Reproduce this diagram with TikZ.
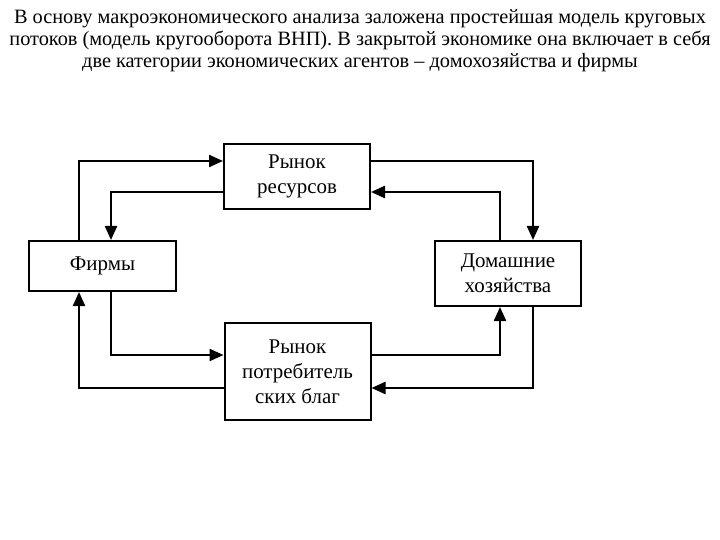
\documentclass[tikz,border=0pt]{standalone}
\usepackage{fontspec}
\setmainfont{Liberation Serif}
\usetikzlibrary{arrows.meta}
\tikzset{
  box/.style={draw, line width=2bp, align=center, inner sep=0pt, font=\fontsize{21}{25}\selectfont},
  arr/.style={line width=2.3bp, -{Triangle[length=14bp,width=12bp]}},
}
\begin{document}
\begin{tikzpicture}[x=1bp,y=-1bp]
\useasboundingbox (0,0) rectangle (720,540);
\node[align=center, inner sep=0pt, font=\fontsize{20.4}{22}\selectfont] (title) at (360,41) {В основу макроэкономического анализа заложена простейшая модель круговых\\потоков (модель кругооборота ВНП). В закрытой экономике она включает в себя\\две категории экономических агентов – домохозяйства и фирмы};
\node[box, minimum width=146bp, minimum height=65bp] (res) at (297,176.5) {Рынок\\ресурсов};
\node[box, minimum width=147bp, minimum height=50bp] (firms) at (102.5,266) {Фирмы};
\node[box, minimum width=146bp, minimum height=65bp] (hh) at (508,273.5) {Домашние\\хозяйства};
\node[box, minimum width=146bp, minimum height=97bp] (cons) at (297.5,371.5) {Рынок\\потребитель\\ских благ};
\coordinate (xL1) at (79,0);
\coordinate (xL2) at (111,0);
\coordinate (xR1) at (500,0);
\coordinate (xR2) at (533,0);
\coordinate (yT1) at (0,161);
\coordinate (yT2) at (0,192);
\coordinate (yB1) at (0,355);
\coordinate (yB2) at (0,388);
\draw[arr] (firms.north -| xL1) |- (res.west |- yT1);
\draw[arr] (res.west |- yT2) -| (firms.north -| xL2);
\draw[arr] (res.east |- yT1) -| (hh.north -| xR2);
\draw[arr] (hh.north -| xR1) |- (res.east |- yT2);
\draw[arr] (firms.south -| xL2) |- (cons.west |- yB1);
\draw[arr] (cons.west |- yB2) -| (firms.south -| xL1);
\draw[arr] (cons.east |- yB1) -| (hh.south -| xR1);
\draw[arr] (hh.south -| xR2) |- (cons.east |- yB2);
\end{tikzpicture}
\end{document}
